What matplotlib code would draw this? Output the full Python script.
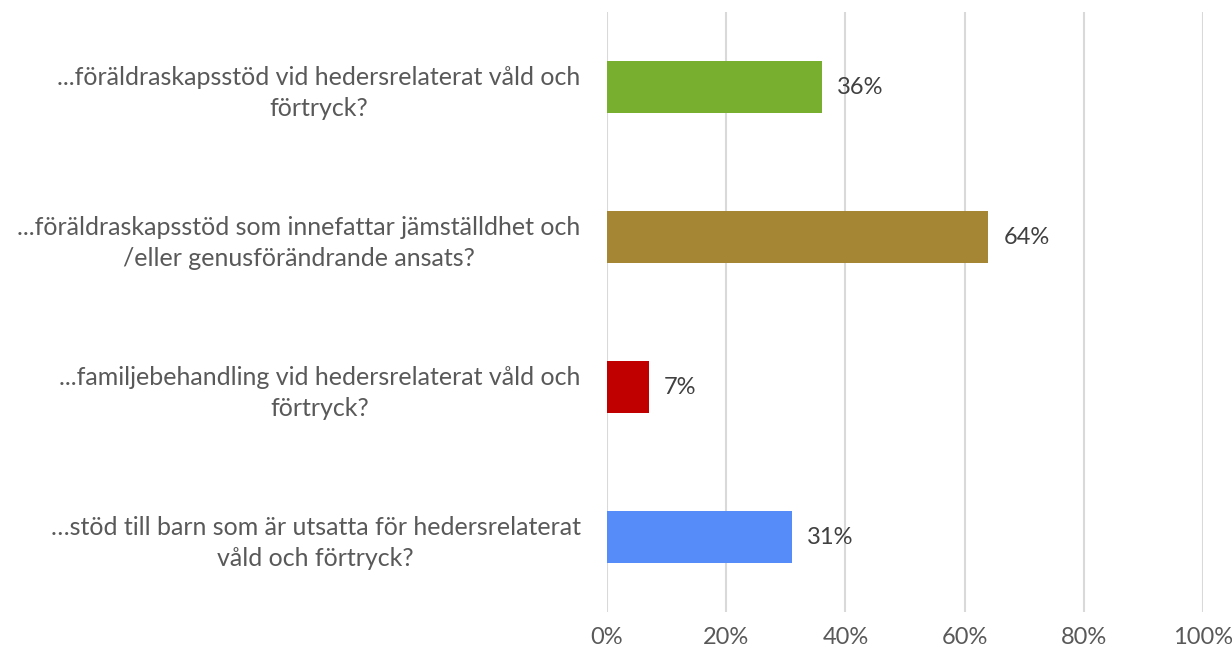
import matplotlib.pyplot as plt
from matplotlib.ticker import FuncFormatter

categories = [
    "...föräldraskapsstöd vid hedersrelaterat våld och\nförtryck?",
    "...föräldraskapsstöd som innefattar jämställdhet och\n/eller genusförändrande ansats?",
    "...familjebehandling vid hedersrelaterat våld och\nförtryck?",
    "…stöd till barn som är utsatta för hedersrelaterat\nvåld och förtryck?",
]
values = [36, 64, 7, 31]
colors = ["#78AF2E", "#A58634", "#C00000", "#558CFA"]
xticks = [0, 20, 40, 60, 80, 100]

text_color = "#595959"
plt.rcParams['font.family'] = ['Lato', 'DejaVu Sans']

fig = plt.figure(figsize=(12.32, 6.49), dpi=100)
ax = fig.add_axes([607 / 1232, 1 - 612 / 649, (1203 - 607) / 1232, (612 - 12) / 649])

ypos = list(range(len(categories)))
ax.barh(ypos, values, height=0.35, color=colors, zorder=3)
for y, v in zip(ypos, values):
    ax.text(v + 2.6, y, f"{v}%", va="center", ha="left", fontsize=17, color="#404040")

ax.set_xlim(0, 100)
ax.set_ylim(3.5, -0.5)
ax.set_xticks(xticks)
ax.xaxis.set_major_formatter(FuncFormatter(lambda x, _: f"{x:.0f}%"))
ax.set_yticks(ypos)
ax.set_yticklabels(categories, fontsize=18, color=text_color, ha="right",
                   multialignment="center", linespacing=1.4)
ax.tick_params(axis="y", length=0, pad=19)
ax.tick_params(axis="x", length=0, pad=11, labelsize=17, labelcolor=text_color)
ax.grid(axis="x", color="#D9D9D9", linewidth=1.5, zorder=0)
for s in ax.spines.values():
    s.set_visible(False)

fig.savefig("out.png", dpi=100)
